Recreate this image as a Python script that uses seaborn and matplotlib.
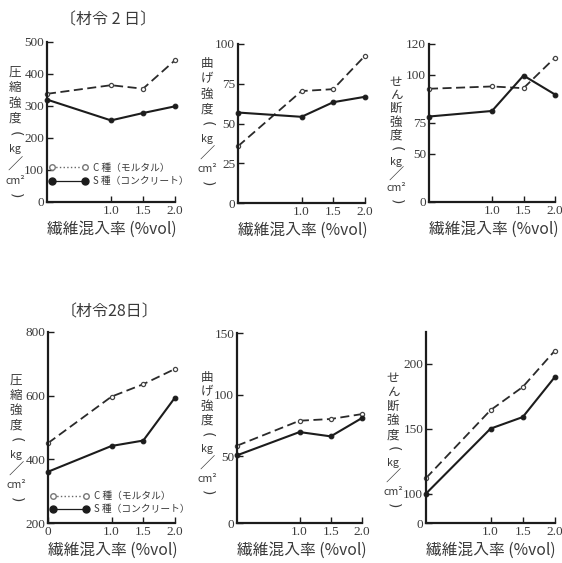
import numpy as np
import pandas as pd
import matplotlib
matplotlib.use("Agg")
import matplotlib.pyplot as plt
from matplotlib.lines import Line2D
import seaborn as sns

# fibre content (%vol)
x_rate = [0.0, 1.0, 1.5, 2.0]

# age 2 days
comp2_C = [338, 365, 354, 443]
comp2_S = [320, 255, 278, 299]
bend2_C = [35.7, 70.4, 71.6, 92.6]
bend2_S = [56.9, 54.2, 63.4, 66.8]
shear2_C = [92.8, 94.0, 93.1, 111.2]
shear2_S = [78.3, 81.2, 99.7, 89.8]

# age 28 days
comp28_C = [451, 597, 636, 684]
comp28_S = [361, 442, 459, 594]
bend28_C = [58.6, 78.9, 80.3, 84.3]
bend28_S = [50.8, 69.7, 66.2, 81.1]
shear28_C = [111.9, 164.2, 182.0, 209.9]
shear28_S = [100.0, 150.0, 158.9, 189.8]

titles = ["〔材令 2 日〕", "〔材令28日〕"]
xlabel = "繊維混入率 (%vol)"
label_C = "C 種（モルタル）"
label_S = "S 種（コンクリート）"
ylab_comp = ["圧", "縮", "強", "度", "(", "kg", "／", "cm²", ")"]
ylab_bend = ["曲", "げ", "強", "度", "(", "kg", "／", "cm²", ")"]
ylab_shear = ["せ", "ん", "断", "強", "度", "(", "kg", "／", "cm²", ")"]

yticks_comp2 = [0, 100, 200, 300, 400, 500]
yticks_bend2 = [0, 25, 50, 75, 100]
yticks_shear2 = [0, 50, 75, 100, 120]
yticks_comp28 = [200, 400, 600, 800]
yticks_bend28 = [0, 50, 100, 150]
yticks_shear28 = [0, 100, 150, 200]

sns.set_style("ticks")
CJK = ["Noto Sans CJK JP", "DejaVu Sans"]
plt.rcParams["font.family"] = CJK
NUMFONT = "Liberation Serif"
INK = "#1c1c1c"
TXT = "#3a3a3a"

W, H = 562, 563
fig = plt.figure(figsize=(W / 100, H / 100), dpi=100)


def px_axes(l, t, r, b):
    return fig.add_axes([l / W, 1 - b / H, (r - l) / W, (b - t) / H])


def piecewise(vals, pos):
    vals = np.asarray(vals, float)
    pos = np.asarray(pos, float)
    fwd = lambda v: np.interp(v, vals, pos)
    inv = lambda q: np.interp(q, pos, vals)
    return fwd, inv


def vlabel(x, y0, step, chars, size=9.0):
    # stacked vertical Japanese label; brackets turned to vertical form
    for i, c in enumerate(chars):
        kw = dict(ha="center", va="center", color=TXT, family=CJK, fontsize=size)
        if c in ("(", ")"):
            kw.update(rotation=-90, family="DejaVu Sans", fontsize=size + 1)
        elif c in ("kg", "cm²"):
            kw.update(fontsize=size * 0.85)
        elif c == "／":
            kw.update(fontsize=size + 2)
        fig.text(x / W, 1 - (y0 + i * step) / H, c, **kw)


panels = [
    dict(rect=(47, 42, 175, 202), C=comp2_C, S=comp2_S, yt=yticks_comp2, ylim=(0, 500),
         scale=None, xt=[1.0, 1.5, 2.0], yl=ylab_comp, lab=(15, 72, 15.5), legend=(-0.02, 0.07)),
    dict(rect=(238, 44, 365, 203), C=bend2_C, S=bend2_S, yt=yticks_bend2, ylim=(0, 100),
         scale=None, xt=[1.0, 1.5, 2.0], yl=ylab_bend, lab=(207, 64, 15.0), legend=None),
    dict(rect=(429, 44, 555, 202), C=shear2_C, S=shear2_S, yt=yticks_shear2, ylim=(0, 120),
         scale=([0, 50, 75, 100, 120], [0, .305, .501, .804, 1.0]), xt=[1.0, 1.5, 2.0],
         yl=ylab_shear, lab=(396, 82, 13.3), legend=None),
    dict(rect=(48, 332, 175, 523), C=comp28_C, S=comp28_S, yt=yticks_comp28, ylim=(200, 800),
         scale=None, xt=[0.0, 1.0, 1.5, 2.0], yl=ylab_comp, lab=(16, 380, 15.0), legend=(-0.02, 0.02)),
    dict(rect=(237, 333, 362, 523), C=bend28_C, S=bend28_S, yt=yticks_bend28, ylim=(0, 150),
         scale=([0, 50, 100, 150], [0, .351, .675, 1.0]), xt=[1.0, 1.5, 2.0],
         yl=ylab_bend, lab=(207, 377, 14.5), legend=None),
    dict(rect=(426, 332, 555, 523), C=shear28_C, S=shear28_S, yt=yticks_shear28, ylim=(0, 224),
         scale=([0, 100, 150, 200, 224], [0, .154, .494, .835, 1.0]), xt=[1.0, 1.5, 2.0],
         yl=ylab_shear, lab=(393, 378, 14.2), legend=None),
]

for p in panels:
    ax = px_axes(*p["rect"])
    if p["scale"] is not None:
        ax.set_yscale("function", functions=piecewise(*p["scale"]))
    df = pd.DataFrame({"rate": x_rate, "C": p["C"], "S": p["S"]})
    sns.lineplot(data=df, x="rate", y="C", ax=ax, color="#2a2a2a", linestyle=(0, (5, 2.5)),
                 linewidth=1.3, marker="o", markersize=3.0, markerfacecolor="white",
                 markeredgecolor="#444444", markeredgewidth=0.9, clip_on=False)
    sns.lineplot(data=df, x="rate", y="S", ax=ax, color=INK, linewidth=1.5,
                 marker="o", markersize=3.4, markerfacecolor=INK, markeredgecolor=INK,
                 clip_on=False)
    ax.set_xlim(0, 2.0)
    ax.set_ylim(*p["ylim"])
    ax.set_xticks(p["xt"])
    ax.set_xticklabels(["0" if v == 0 else f"{v:.1f}" for v in p["xt"]])
    ax.set_yticks(p["yt"])
    ax.set_yticklabels([str(v) for v in p["yt"]])
    ax.minorticks_off()
    ax.set_ylabel("")
    ax.set_xlabel(xlabel, loc="left", fontsize=11.3, labelpad=3, color=TXT)
    for s in ("top", "right"):
        ax.spines[s].set_visible(False)
    for s in ("left", "bottom"):
        ax.spines[s].set_linewidth(1.6)
        ax.spines[s].set_color(INK)
    ax.tick_params(direction="in", length=4, width=1.0, color=INK, pad=2,
                   labelsize=9.5, labelcolor=TXT)
    for t in ax.get_xticklabels() + ax.get_yticklabels():
        t.set_family(NUMFONT)
    ax.set_facecolor("none")
    vlabel(*p["lab"], p["yl"])
    if p["legend"] is not None:
        handles = [
            Line2D([], [], color="#666666", linestyle=":", linewidth=1.0, marker="o",
                   markersize=4, markerfacecolor="white", markeredgecolor="#777777"),
            Line2D([], [], color=INK, linestyle="-", linewidth=0.9, marker="o",
                   markersize=5, markerfacecolor=INK, markeredgecolor=INK),
        ]
        ax.legend(handles, [label_C, label_S], loc="lower left", bbox_to_anchor=p["legend"],
                  frameon=False, numpoints=2, handlelength=4.0, handletextpad=0.5,
                  labelspacing=0.35, borderaxespad=0.1, prop={"family": CJK, "size": 7},
                  labelcolor=TXT)

fig.text(108 / W, 1 - 20 / H, titles[0], ha="center", va="center", fontsize=11.5,
         color=TXT, family=CJK)
fig.text(110 / W, 1 - 312 / H, titles[1], ha="center", va="center", fontsize=11.5,
         color=TXT, family=CJK)

fig.savefig("out.png", dpi=100)
